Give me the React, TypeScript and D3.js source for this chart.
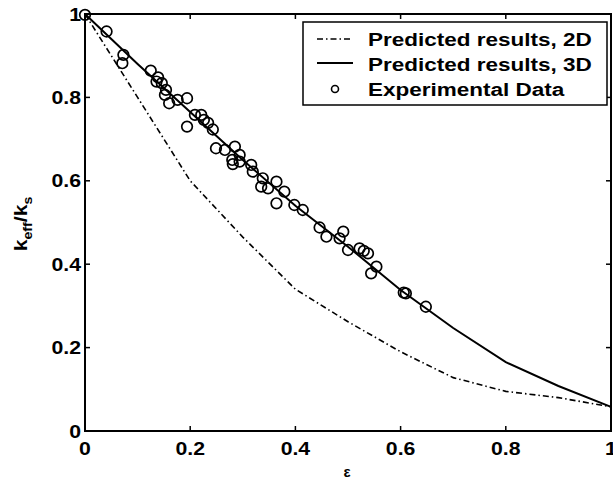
import React from "react";
import * as d3 from "d3";

const epsGrid = [0, 0.1, 0.2, 0.3, 0.4, 0.5, 0.6, 0.7, 0.8, 0.9, 1.0];
const pred2D = [1.0, 0.8, 0.6, 0.465, 0.34, 0.262, 0.19, 0.128, 0.095, 0.08, 0.058];
const pred3D = [1.0, 0.88, 0.765, 0.65, 0.54, 0.442, 0.338, 0.247, 0.165, 0.108, 0.058];

const expEps = [0, 0.041, 0.073, 0.071, 0.125, 0.139, 0.136, 0.146, 0.154, 0.152, 0.16, 0.176, 0.194, 0.194, 0.209, 0.221, 0.226, 0.234, 0.243, 0.249, 0.266, 0.285, 0.294, 0.28, 0.281, 0.294, 0.316, 0.319, 0.338, 0.335, 0.348, 0.364, 0.379, 0.364, 0.398, 0.414, 0.446, 0.459, 0.484, 0.491, 0.5, 0.522, 0.53, 0.538, 0.554, 0.544, 0.61, 0.606, 0.648];
const expVal = [0.998, 0.958, 0.902, 0.882, 0.864, 0.848, 0.838, 0.834, 0.818, 0.806, 0.786, 0.794, 0.798, 0.73, 0.758, 0.758, 0.746, 0.739, 0.723, 0.678, 0.674, 0.682, 0.662, 0.65, 0.64, 0.646, 0.638, 0.622, 0.606, 0.586, 0.582, 0.598, 0.574, 0.546, 0.542, 0.53, 0.488, 0.466, 0.462, 0.478, 0.434, 0.438, 0.432, 0.426, 0.394, 0.378, 0.33, 0.332, 0.298];

const xTicks = [0, 0.2, 0.4, 0.6, 0.8, 1];
const yTicks = [0, 0.2, 0.4, 0.6, 0.8, 1];
const tickLabels = ["0", "0.2", "0.4", "0.6", "0.8", "1"];
const legendLabels = ["Predicted results, 2D", "Predicted results, 3D", "Experimental Data"];

const W = 613, H = 482;
const L = 85, R = 611, T = 14, B = 431;
const FONT = "'Liberation Sans', Arial, Helvetica, sans-serif";
const SX = 1.18;

export default function App() {
  const x = d3.scaleLinear().domain([0, 1]).range([L, R]);
  const y = d3.scaleLinear().domain([0, 1]).range([B, T]);
  const line = d3.line<[number, number]>().x(d => x(d[0])).y(d => y(d[1]));
  const d2 = line(epsGrid.map((e, i) => [e, pred2D[i]] as [number, number])) || "";
  const d3p = line(epsGrid.map((e, i) => [e, pred3D[i]] as [number, number])) || "";
  const tl = 5;
  const dashDot = "6,3,1.5,3";
  return (
    <svg width={W} height={H} style={{ position: "absolute", left: 0, top: 0, background: "#fff" }} fontFamily={FONT}>
      <rect x={0} y={0} width={W} height={H} fill="#fff" />
      <path d={d2} fill="none" stroke="#000" strokeWidth={1.6} strokeDasharray={dashDot} />
      <path d={d3p} fill="none" stroke="#000" strokeWidth={2} />
      {expEps.map((e, i) => (
        <circle key={i} cx={x(e)} cy={y(expVal[i])} r={5.3} fill="none" stroke="#000" strokeWidth={1.7} />
      ))}
      <rect x={L} y={T} width={R - L} height={B - T} fill="none" stroke="#000" strokeWidth={2} />
      {xTicks.map((t, i) => (
        <g key={"x" + i}>
          <line x1={x(t)} x2={x(t)} y1={B} y2={B - tl} stroke="#000" strokeWidth={1.5} />
          <line x1={x(t)} x2={x(t)} y1={T} y2={T + tl} stroke="#000" strokeWidth={1.5} />
          <text transform={`translate(${x(t)},455) scale(${SX},1)`} textAnchor="middle" fontSize={18} fontWeight="bold">{tickLabels[i]}</text>
        </g>
      ))}
      {yTicks.map((t, i) => (
        <g key={"y" + i}>
          <line x1={L} x2={L + tl} y1={y(t)} y2={y(t)} stroke="#000" strokeWidth={1.5} />
          <line x1={R} x2={R - tl} y1={y(t)} y2={y(t)} stroke="#000" strokeWidth={1.5} />
          <text transform={`translate(81,${y(t) + 6.5}) scale(${SX},1)`} textAnchor="end" fontSize={18} fontWeight="bold">{tickLabels[i]}</text>
        </g>
      ))}
      <text x={347} y={477} textAnchor="middle" fontSize={15} fontWeight="bold">ε</text>
      <text transform={`translate(27,224) rotate(-90) scale(${SX},1)`} textAnchor="middle" fontSize={18} fontWeight="bold">
        <tspan>k</tspan>
        <tspan fontSize={12} dy={5}>eff</tspan>
        <tspan dy={-5}>/k</tspan>
        <tspan fontSize={12} dy={5}>s</tspan>
      </text>
      <rect x={303} y={22} width={304} height={83} fill="#fff" stroke="#000" strokeWidth={1.5} />
      <line x1={317} x2={353} y1={39} y2={39} stroke="#000" strokeWidth={1.6} strokeDasharray={dashDot} />
      <line x1={317} x2={353} y1={63} y2={63} stroke="#000" strokeWidth={2} />
      <circle cx={335} cy={89} r={3.5} fill="none" stroke="#000" strokeWidth={1.6} />
      {legendLabels.map((s, i) => (
        <text key={s} transform={`translate(368,${45.5 + i * 25}) scale(1.25,1)`} fontSize={18} fontWeight="bold">{s}</text>
      ))}
    </svg>
  );
}
